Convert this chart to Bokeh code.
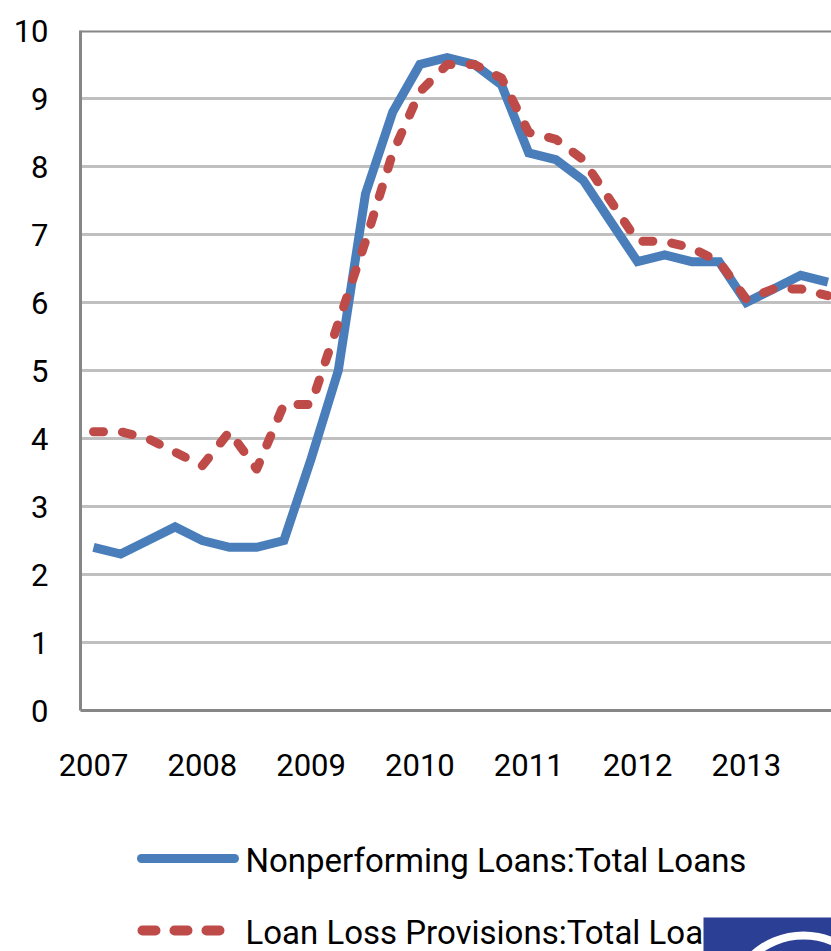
from bokeh.plotting import figure
from bokeh.models import Range1d, Span, FixedTicker, ColumnDataSource
from bokeh.layouts import column
from bokeh.embed import file_html
from bokeh.resources import INLINE
from bokeh.core.properties import value

# ---- data (quarterly, percent) ----
quarters = [2007.00, 2007.25, 2007.50, 2007.75,
            2008.00, 2008.25, 2008.50, 2008.75,
            2009.00, 2009.25, 2009.50, 2009.75,
            2010.00, 2010.25, 2010.50, 2010.75,
            2011.00, 2011.25, 2011.50, 2011.75,
            2012.00, 2012.25, 2012.50, 2012.75,
            2013.00, 2013.25, 2013.50, 2013.75]
npl_ratio = [2.4, 2.3, 2.5, 2.7,
             2.5, 2.4, 2.4, 2.5,
             3.7, 5.0, 7.6, 8.8,
             9.5, 9.6, 9.5, 9.2,
             8.2, 8.1, 7.8, 7.2,
             6.6, 6.7, 6.6, 6.6,
             6.0, 6.2, 6.4, 6.3]
llp_ratio = [4.1, 4.1, 4.0, 3.8,
             3.6, 4.1, 3.55, 4.5,
             4.5, 5.7, 6.9, 8.2,
             9.1, 9.5, 9.5, 9.3,
             8.5, 8.4, 8.1, 7.5,
             6.9, 6.9, 6.8, 6.6,
             6.05, 6.2, 6.2, 6.1]
year_ticks = [2007, 2008, 2009, 2010, 2011, 2012, 2013]
y_ticks = [0, 1, 2, 3, 4, 5, 6, 7, 8, 9, 10]
series_names = ["Nonperforming Loans:Total Loans",
                "Loan Loss Provisions:Total Loans"]

FONT = "Roboto"
BLUE = "#4a7ebb"
RED = "#be4b48"
AXIS_GRAY = "#868686"
GRID_GRAY = "#c0c0c0"

src = ColumnDataSource(dict(x=quarters, npl=npl_ratio, llp=llp_ratio))

p = figure(width=831, height=800, output_backend="svg", toolbar_location=None,
           x_range=Range1d(2006.8805, 2013.783), y_range=Range1d(0, 10),
           min_border_left=80, min_border_top=30, min_border_right=0,
           min_border_bottom=90)
p.outline_line_color = None
p.background_fill_color = "white"
p.border_fill_color = "white"

p.xgrid.visible = False
p.ygrid.ticker = FixedTicker(ticks=y_ticks[1:-1])
p.ygrid.grid_line_color = GRID_GRAY
p.ygrid.grid_line_width = 3

for ax in (p.xaxis[0], p.yaxis[0]):
    ax.axis_line_color = AXIS_GRAY
    ax.axis_line_width = 3
    ax.major_tick_line_color = None
    ax.minor_tick_line_color = None
    ax.major_tick_out = 0
    ax.major_tick_in = 0
    ax.major_label_text_font = FONT
    ax.major_label_text_font_size = "31px"
    ax.major_label_text_color = "black"

p.xaxis.ticker = FixedTicker(ticks=year_ticks)
p.xaxis.major_label_standoff = 43
p.yaxis.ticker = FixedTicker(ticks=y_ticks)
p.yaxis.major_label_standoff = 32

top_border = Span(location=y_ticks[-1], dimension="width", line_color=AXIS_GRAY,
                  line_width=4)
p.add_layout(top_border)

p.line("x", "npl", source=src, line_color=BLUE, line_width=9, line_join="miter")
p.line("x", "llp", source=src, line_color=RED, line_width=9, line_dash="10 19",
       line_cap="round", line_join="round")

# ---- legend panel (page pixel coordinates; same side borders as the chart) ----
lf = figure(width=831, height=151, output_backend="svg", toolbar_location=None,
            x_range=Range1d(80, 831), y_range=Range1d(951, 800),
            min_border_left=80, min_border_right=0, min_border_top=0,
            min_border_bottom=0)
lf.axis.visible = False
lf.grid.visible = False
lf.outline_line_color = None
lf.background_fill_color = "white"
lf.border_fill_color = "white"

lf.line([141, 234], [858, 858], line_color=BLUE, line_width=9, line_cap="round")
lf.line([142, 219], [930, 930], line_color=RED, line_width=10, line_cap="round",
        line_dash="13 19")
lf.text(x=[245, 245], y=[860, 932], text=series_names,
        text_font=value(FONT), text_font_size="33px", text_baseline="middle",
        text_align="left", text_color="black")

# logo block at the bottom right
lf.quad(left=[703], right=[840], top=[917], bottom=[960], fill_color="#2b3f94",
        line_color=None)
lf.annulus(x=[803], y=[1010], inner_radius=71, outer_radius=79,
           fill_color="white", line_color=None)

layout = column(p, lf, spacing=0)
open("out.html", "w").write(file_html(layout, INLINE))
